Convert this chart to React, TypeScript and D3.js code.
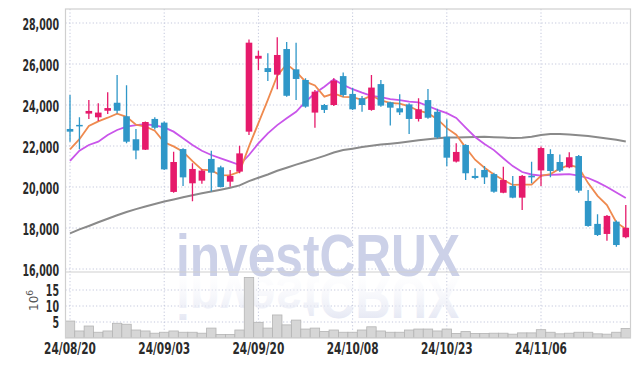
import React from 'react';
import * as d3 from 'd3';

const tickIdx = [0, 10, 20, 30, 40, 50];
const tickLabels = ['24/08/20', '24/09/03', '24/09/20', '24/10/08', '24/10/23', '24/11/06'];
const priceTicks = [16000, 18000, 20000, 22000, 24000, 26000, 28000];
const volTicks = [5, 10, 15];

const opens = [22830,23030,23580,23400,23720,24110,23450,22330,21820,23320,23140,19760,21850,20180,20310,21370,20960,20260,20750,22700,26260,25800,25480,26730,25740,25220,23630,24000,24000,25410,24540,24330,23760,25020,24130,23840,24030,23320,24240,23670,22450,21240,22050,20540,20830,20630,19720,20050,19480,20550,20810,21610,21220,20960,21510,19320,18200,17710,18310,17550];
const closes = [22700,23000,23710,23630,23850,23720,22210,21780,23170,22890,20860,21220,20470,20880,20800,20700,20000,20540,21640,27040,26400,25610,26440,24450,25270,23920,24650,23760,25190,24490,23790,24000,24850,23970,23870,23640,23320,23790,23380,22420,21430,21710,20670,20440,20470,19770,20340,19480,20540,20470,21900,20780,20800,21450,19820,18100,17660,18590,17170,18010];
const highs = [24490,23400,24240,24080,24620,25460,24960,22830,23200,23400,23200,21720,21890,21160,20870,21770,21040,20830,22010,27200,26650,26520,27300,27070,27040,25300,24730,24050,25300,25580,24830,24440,25460,25220,24160,24520,24080,24330,24780,23820,23300,22130,22080,20910,21020,20700,20990,20540,20590,21230,21970,21840,21580,21690,21560,19850,18670,18630,18360,19120];
const lows = [22210,21840,23320,23220,23560,23590,22130,21350,21800,22800,20830,19720,20050,19300,20160,19780,19970,20015,20670,22540,25710,25170,24770,24400,24240,23860,22890,23610,23950,24400,23760,23670,23720,23920,23000,23510,22590,23200,23330,22370,21010,21190,20340,20380,20150,19720,19690,19450,18880,20180,20050,20470,20730,20920,19720,18060,17610,17380,17090,17500];
const volumes = [5.3,2.2,3.75,1.8,2.2,4.6,4.3,2.5,2.2,1.5,1.8,2.2,1.8,1.8,1.5,3.1,1.1,1.1,2.5,18.9,4.9,3.1,7.2,4.1,5.6,2.8,3.1,2.0,2.5,1.8,1.8,2.5,3.5,2.2,1.8,1.8,2.5,2.8,2.8,2.2,2.8,1.4,2.0,1.4,1.4,1.5,1.5,1.2,1.6,1.6,2.6,1.8,1.3,1.5,1.8,1.8,1.3,1.2,1.8,3.0];
const ma5 = [21840,22330,22980,23200,23380,23580,23420,23040,22950,22750,22180,21980,21720,21260,20850,20810,20570,20580,20740,21980,23120,24250,25430,25990,25630,25140,24950,24410,24560,24400,24380,24250,24460,24220,24100,24070,23930,23720,23600,23310,22870,22550,21920,21330,20940,20610,20340,20100,20120,20120,20550,20630,20900,21080,20950,20190,19570,19120,18270,17950];
const ma20 = [21280,21770,22050,22210,22540,22780,22940,23020,23060,23010,22910,22700,22380,22050,21770,21560,21400,21240,21070,21560,22130,22620,23020,23350,23670,24160,24570,24890,25250,24980,24770,24600,24450,24380,24290,24240,24160,24130,23950,23760,23600,23370,22900,22440,22100,21800,21400,21020,20730,20610,20560,20590,20610,20630,20560,20440,20240,20000,19730,19460];
const ma60 = [17740,17930,18100,18280,18450,18620,18780,18920,19050,19170,19290,19390,19500,19600,19690,19780,19870,19960,20080,20290,20450,20610,20790,20940,21090,21230,21370,21520,21680,21800,21870,21950,22010,22070,22110,22160,22220,22280,22330,22380,22410,22420,22430,22440,22450,22430,22410,22390,22400,22450,22540,22580,22580,22560,22530,22490,22430,22370,22300,22220];

const W = 639, H = 366;
const L = 65.5, R = 630.5, T = 9, PB = 272, VB = 338;
const UP = '#e61a6b', DOWN = '#2f97c8';
const GRID = '#c3c7dc';
const FONT = "'DejaVu Sans Condensed', 'Liberation Sans Narrow', sans-serif";

const charW: Record<string, number> = { ',': 3.6, '/': 6.1 };
const textW = (s: string) => s.split('').reduce((a, c) => a + (charW[c] ?? 6.6), 0);

function Label(props: { x: number; y: number; anchor: 'end' | 'middle'; text: string }) {
  const { x, y, anchor, text } = props;
  return (
    <text x={x} y={y} textAnchor={anchor} fontFamily={FONT} fontWeight="bold" fontSize={15} fill="#2b2b2b"
      textLength={textW(text)} lengthAdjust="spacingAndGlyphs">{text}</text>
  );
}

export default function App() {
  const idx = d3.range(opens.length);
  const x = d3.scaleBand<number>().domain(idx).range([65.3, 630.5]).padding(0);
  const bw = x.bandwidth();
  const cx = (i: number) => (x(i) as number) + bw / 2;
  const y = d3.scaleLinear().domain([16000, 28000]).range([269, 23]);
  const yv = d3.scaleLinear().domain([0, 15]).range([VB, 290]);
  const line = (arr: number[]) =>
    d3.line<number>().x((_, i) => cx(i)).y((d) => y(d))(arr) as string;

  return (
    <svg width={W} height={H} style={{ display: 'block', position: 'absolute', left: 0, top: 0 }}>
      <defs>
        <clipPath id="pclip"><rect x={L} y={T} width={R - L} height={PB - T} /></clipPath>
        <clipPath id="vclip"><rect x={L} y={PB} width={R - L} height={VB - PB} /></clipPath>
        <linearGradient id="fade" x1="0" y1="0" x2="0" y2="1">
          <stop offset="0" stopColor="#d9ddee" stopOpacity={1} />
          <stop offset="1" stopColor="#ffffff" stopOpacity={0} />
        </linearGradient>
      </defs>
      <rect x={0} y={0} width={W} height={H} fill="#fff" />
      {priceTicks.map((t) => (
        <line key={'pg' + t} x1={L} x2={R} y1={y(t)} y2={y(t)} stroke={GRID} strokeDasharray="1.2,2.2" />
      ))}
      {volTicks.map((t) => (
        <line key={'vg' + t} x1={L} x2={R} y1={yv(t)} y2={yv(t)} stroke={GRID} strokeDasharray="1.2,2.2" />
      ))}
      {tickIdx.map((t) => (
        <line key={'xg' + t} x1={cx(t)} x2={cx(t)} y1={T} y2={VB} stroke={GRID} strokeDasharray="1.2,2.2" />
      ))}
      <text x={176} y={276} fontFamily="'Liberation Sans', sans-serif" fontWeight="bold" fontSize={60}
        fill="#ccd1e8" textLength={284} lengthAdjust="spacingAndGlyphs">investCRUX</text>
      <g clipPath="url(#vclip)">
        <text x={176} y={-277} transform="scale(1,-1)" fontFamily="'Liberation Sans', sans-serif" fontWeight="bold"
          fontSize={60} fill="url(#fade)" textLength={284} lengthAdjust="spacingAndGlyphs">investCRUX</text>
      </g>
      <g clipPath="url(#vclip)">
        {volumes.map((v, i) => (
          <rect key={'v' + i} x={x(i) as number} y={yv(v)} width={bw} height={VB - yv(v)}
            fill="#d6d6d6" stroke="#b4b4b4" strokeWidth={0.8} />
        ))}
      </g>
      <g clipPath="url(#pclip)">
        <path d={line(ma60)} fill="none" stroke="#8a8a8a" strokeWidth={2} />
        <path d={line(ma20)} fill="none" stroke="#c955ea" strokeWidth={1.8} />
        <path d={line(ma5)} fill="none" stroke="#ef8a4f" strokeWidth={1.8} />
        {idx.map((i) => {
          const up = closes[i] >= opens[i];
          const c = up ? UP : DOWN;
          const top = y(Math.max(opens[i], closes[i]));
          const bot = y(Math.min(opens[i], closes[i]));
          const bwid = bw * 0.7;
          return (
            <g key={'c' + i}>
              <line x1={cx(i)} x2={cx(i)} y1={y(highs[i])} y2={y(lows[i])} stroke={c} strokeWidth={1.3} />
              <rect x={cx(i) - bwid / 2} y={top} width={bwid} height={Math.max(bot - top, 1.5)} fill={c} />
            </g>
          );
        })}
      </g>
      <rect x={L} y={T} width={R - L} height={VB - T} fill="none" stroke="#cfcfcf" strokeWidth={1.2} />
      <line x1={L} x2={R} y1={PB} y2={PB} stroke="#cfcfcf" strokeWidth={1.2} />
      {priceTicks.map((t) => (
        <Label key={'pl' + t} x={59} y={y(t) + 6.5} anchor="end" text={d3.format(',')(t)} />
      ))}
      {volTicks.map((t) => (
        <Label key={'vl' + t} x={59} y={yv(t) + 6} anchor="end" text={String(t)} />
      ))}
      {tickIdx.map((t, k) => (
        <Label key={'xl' + t} x={cx(t)} y={354} anchor="middle" text={tickLabels[k]} />
      ))}
      <text transform="translate(38,311) rotate(-90)" fontFamily="'DejaVu Sans', sans-serif" fontSize={12} fill="#555">
        10<tspan dy={-5} fontSize={9}>6</tspan>
      </text>
    </svg>
  );
}
